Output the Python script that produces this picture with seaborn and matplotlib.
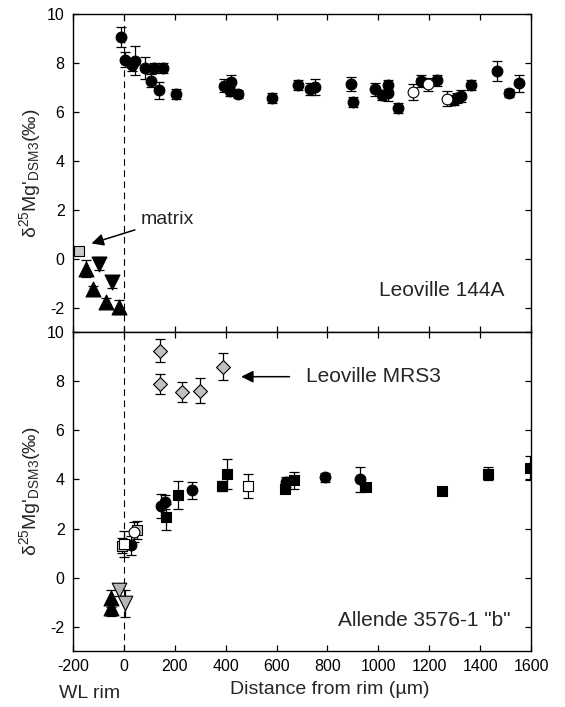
import matplotlib
matplotlib.use("Agg")
import numpy as np
import pandas as pd
import seaborn as sns
import matplotlib.pyplot as plt

# ---- Leoville 144A (top panel) ----
top_circ_x = [-12, 4, 34, 43, 82, 105, 119, 139, 155, 204, 393, 417, 423, 449, 582, 685, 730, 750,
              892, 899, 988, 1013, 1036, 1039, 1076, 1166, 1229, 1297, 1308, 1323, 1363, 1465, 1515, 1554]
top_circ_y = [9.07, 8.14, 7.94, 8.10, 7.80, 7.28, 7.80, 6.89, 7.80, 6.75, 7.08, 6.84, 7.21, 6.73, 6.57, 7.10, 6.95, 7.02,
              7.14, 6.41, 6.93, 6.68, 7.09, 6.78, 6.16, 7.28, 7.30, 6.48, 6.57, 6.64, 7.12, 7.69, 6.78, 7.17]
top_circ_e = [0.41, 0.32, 0.25, 0.6, 0.45, 0.27, 0.2, 0.35, 0.2, 0.2, 0.25, 0.2, 0.3, 0.15, 0.2, 0.2, 0.25, 0.32,
              0.29, 0.2, 0.27, 0.2, 0.2, 0.34, 0.2, 0.25, 0.22, 0.2, 0.2, 0.25, 0.2, 0.41, 0.15, 0.34]
top_open_x = [1137, 1196, 1268]
top_open_y = [6.82, 7.14, 6.55]
top_open_e = [0.32, 0.27, 0.3]
top_up_x = [-147, -121, -71, -20]
top_up_y = [-0.40, -1.24, -1.76, -1.97]
top_up_e = [0.36, 0.12, 0.15, 0.3]
top_down_x = [-97, -48]
top_down_y = [-0.19, -0.94]
top_down_e = [0.25, 0.24]
top_matrix_x = [-177]
top_matrix_y = [0.32]
top_matrix_e = [0.12]

# ---- Allende 3576-1 "b" / Leoville MRS3 (bottom panel) ----
bot_circ_x = [30, 148, 161, 269, 637, 790, 928]
bot_circ_y = [1.31, 2.91, 3.08, 3.56, 3.90, 4.08, 4.01]
bot_circ_e = [0.37, 0.5, 0.3, 0.35, 0.2, 0.2, 0.51]
bot_sq_x = [165, 211, 384, 404, 633, 668, 951, 1249, 1430, 1594]
bot_sq_y = [2.47, 3.36, 3.74, 4.24, 3.63, 3.97, 3.70, 3.52, 4.24, 4.47]
bot_sq_e = [0.54, 0.56, 0.2, 0.61, 0.2, 0.34, 0.15, 0.15, 0.27, 0.49]
bot_gsq_x = [-8, 50]
bot_gsq_y = [1.30, 1.93]
bot_gsq_e = [0.3, 0.37]
bot_osq_x = [1, 489]
bot_osq_y = [1.37, 3.74]
bot_osq_e = [0.54, 0.5]
bot_ocirc_x = [39]
bot_ocirc_y = [1.86]
bot_ocirc_e = [0.4]
bot_up_x = [-50, -50]
bot_up_y = [-0.85, -1.25]
bot_up_e = [0.35, 0.3]
bot_down_x = [-20, 5]
bot_down_y = [-0.50, -1.05]
bot_down_e = [0.25, 0.55]
mrs3_x = [141, 141, 228, 301, 390]
mrs3_y = [9.25, 7.89, 7.58, 7.62, 8.60]
mrs3_e = [0.48, 0.41, 0.41, 0.5, 0.56]

x_ticks = [-200, 0, 200, 400, 600, 800, 1000, 1200, 1400, 1600]
y_ticks = [-2, 0, 2, 4, 6, 8, 10]

sns.set_style("ticks")
plt.rcParams['font.family'] = ['Liberation Sans', 'DejaVu Sans']
plt.rcParams['mathtext.fontset'] = 'custom'
plt.rcParams['mathtext.rm'] = 'Liberation Sans'
plt.rcParams['mathtext.it'] = 'Liberation Sans:italic'
plt.rcParams['axes.unicode_minus'] = False


def draw(ax, x, y, err, marker, face, size):
    ax.errorbar(x, y, yerr=err, fmt='none', ecolor='black', elinewidth=0.9,
                capsize=3.5, capthick=0.9, zorder=2)
    df = pd.DataFrame({'x': x, 'y': y})
    sns.scatterplot(data=df, x='x', y='y', marker=marker, s=size, color=face,
                    edgecolor='black', linewidth=0.8, ax=ax, zorder=3, legend=False)


def style_axes(ax, show_xlabels):
    ax.set_xlim(-200, 1600)
    ax.set_ylim(-3, 10)
    ax.set_xticks(x_ticks)
    ax.set_yticks(y_ticks)
    ax.axvline(0, color='black', lw=0.8, ls=(0, (6, 4)), zorder=1)
    ax.tick_params(direction='in', top=True, right=True, length=4, width=0.9,
                   labelsize=11.5, colors='black', pad=6)
    if not show_xlabels:
        ax.tick_params(labelbottom=False)
    for sp in ax.spines.values():
        sp.set_linewidth(1.0)
        sp.set_color('black')
    ax.set_xlabel('')
    ax.set_ylabel(r"$\mathregular{\delta^{25}}$Mg'$\mathregular{_{DSM3}}$(‰)", fontsize=14, labelpad=3)


fig = plt.figure(figsize=(5.65, 7.07), dpi=100)
ax1 = fig.add_axes([0.129, 0.530, 0.811, 0.450])
ax2 = fig.add_axes([0.129, 0.079, 0.811, 0.451])

# top panel
draw(ax1, top_matrix_x, top_matrix_y, top_matrix_e, 's', '#c8c8c8', 50)
draw(ax1, top_up_x, top_up_y, top_up_e, '^', 'black', 115)
draw(ax1, top_down_x, top_down_y, top_down_e, 'v', 'black', 115)
draw(ax1, top_circ_x, top_circ_y, top_circ_e, 'o', 'black', 60)
draw(ax1, top_open_x, top_open_y, top_open_e, 'o', 'white', 60)
style_axes(ax1, False)
ax1.annotate('matrix', xy=(-127, 0.63), xytext=(67, 1.6), fontsize=14, va='center', ha='left',
             arrowprops=dict(arrowstyle='-|>', color='black', lw=1.1, mutation_scale=18,
                             shrinkA=2, shrinkB=0))
ax1.text(1494, -1.31, 'Leoville 144A', fontsize=15, ha='right', va='center')

# bottom panel
draw(ax2, mrs3_x, mrs3_y, mrs3_e, 'D', '#c0c0c0', 50)
draw(ax2, bot_up_x, bot_up_y, bot_up_e, '^', 'black', 115)
draw(ax2, bot_down_x, bot_down_y, bot_down_e, 'v', '#b4b4b4', 110)
draw(ax2, bot_gsq_x, bot_gsq_y, bot_gsq_e, 's', '#c0c0c0', 50)
draw(ax2, bot_sq_x, bot_sq_y, bot_sq_e, 's', 'black', 50)
draw(ax2, bot_circ_x, bot_circ_y, bot_circ_e, 'o', 'black', 60)
draw(ax2, bot_osq_x, bot_osq_y, bot_osq_e, 's', 'white', 50)
draw(ax2, bot_ocirc_x, bot_ocirc_y, bot_ocirc_e, 'o', 'white', 60)
style_axes(ax2, True)
ax2.annotate('', xy=(461, 8.19), xytext=(651, 8.19),
             arrowprops=dict(arrowstyle='-|>', color='black', lw=1.1, mutation_scale=18,
                             shrinkA=0, shrinkB=0))
ax2.text(715, 8.19, 'Leoville MRS3', fontsize=15, ha='left', va='center')
ax2.text(1518, -1.75, 'Allende 3576-1 "b"', fontsize=15, ha='right', va='center')

fig.text(90 / 565, 1 - 694 / 707, 'WL rim', fontsize=14, ha='center', va='center')
fig.text(330 / 565, 1 - 690 / 707, 'Distance from rim (µm)', fontsize=14, ha='center', va='center')

fig.savefig('out.png', dpi=100)
